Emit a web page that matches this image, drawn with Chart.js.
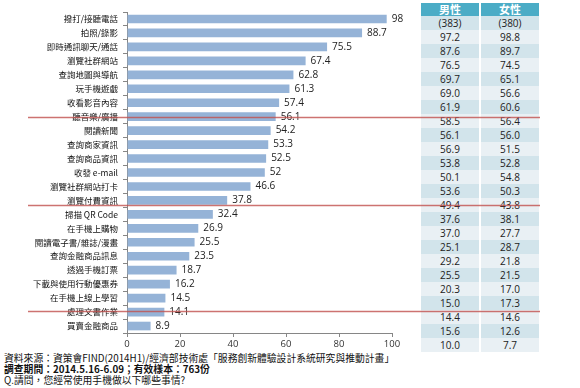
<!DOCTYPE html>
<html lang="zh-Hant">
<head>
<meta charset="UTF-8">
<title>手機使用行為</title>
<script src="https://cdn.jsdelivr.net/npm/chart.js"></script>
<style>
  body { margin: 0; background: #fff; width: 580px; height: 388px; overflow: hidden; position: relative;
         font-family: "Noto Sans CJK TC", "Noto Sans", sans-serif; }
  #wrap { position: absolute; left: 0; top: 0; width: 580px; height: 352px; z-index: 2; }
  #tbl { position: absolute; left: 421px; top: 3px; width: 118px; z-index: 1; }
  .row { display: flex; height: 14px; }
  .row div { width: 58px; text-align: center; font: 10px "Open Sans", "Liberation Sans", sans-serif; line-height: 14px; color: #222; }
  .row div + div { margin-left: 2px; }
  .head { height: 13px; }
  .head div { background: #4bacc6; color: #fff; font: bold 11px "Noto Sans CJK TC", sans-serif; line-height: 13px; }
  .dark div { background: #d2e4eb; }
  .light div { background: #e9f0f4; }
  .note { position: absolute; left: 4px; font-size: 9.8px; color: #111; white-space: nowrap; line-height: 12px; }
</style>
</head>
<body>
<div id="wrap"><canvas id="chart"></canvas></div>
<div id="tbl"></div>
<div class="note" style="top:352px">資料來源：資策會FIND(2014H1)/經濟部技術處「服務創新體驗設計系統研究與推動計畫」</div>
<div class="note" style="top:363px;font-weight:bold">調查期間：2014.5.16-6.09；有效樣本：763份</div>
<div class="note" style="top:374px">Q.請問，您經常使用手機做以下哪些事情?</div>
<script>
const categories = ['撥打/接聽電話', '拍照/錄影', '即時通訊聊天/通話', '瀏覽社群網站', '查詢地圖與導航',
  '玩手機遊戲', '收看影音內容', '聽音樂/廣播', '閱讀新聞', '查詢商家資訊', '查詢商品資訊', '收發 e-mail',
  '瀏覽社群網站打卡', '瀏覽付費資訊', '掃描 QR Code', '在手機上購物', '閱讀電子書/雜誌/漫畫',
  '查詢金融商品訊息', '透過手機訂票', '下載與使用行動優惠券', '在手機上線上學習', '處理文書作業', '買賣金融商品'];
const totals = [98, 88.7, 75.5, 67.4, 62.8, 61.3, 57.4, 56.1, 54.2, 53.3, 52.5, 52, 46.6, 37.8,
  32.4, 26.9, 25.5, 23.5, 18.7, 16.2, 14.5, 14.1, 8.9];
const tableHead = ['男性', '女性'];
const sampleSizes = ['(383)', '(380)'];
const male = ['97.2', '87.6', '76.5', '69.7', '69.0', '61.9', '58.5', '56.1', '56.9', '53.8', '50.1', '53.6',
  '49.4', '37.6', '37.0', '25.1', '29.2', '25.5', '20.3', '15.0', '14.4', '15.6', '10.0'];
const female = ['98.8', '89.7', '74.5', '65.1', '56.6', '60.6', '56.4', '56.0', '51.5', '52.8', '54.8', '50.3',
  '43.8', '38.1', '27.7', '28.7', '21.8', '21.5', '17.0', '17.3', '14.6', '12.6', '7.7'];
const xTicks = [0, 20, 40, 60, 80, 100];

// side table
const tbl = document.getElementById('tbl');
let html = '<div class="row head"><div>' + tableHead[0] + '</div><div>' + tableHead[1] + '</div></div>';
const rows = [sampleSizes].concat(male.map((m, i) => [m, female[i]]));
rows.forEach((r, i) => {
  html += '<div class="row ' + (i % 2 === 0 ? 'dark' : 'light') + '"><div>' + r[0] + '</div><div>' + r[1] + '</div></div>';
});
tbl.innerHTML = html;

// value labels at bar ends
const valueLabels = {
  id: 'valueLabels',
  afterDatasetsDraw(chart) {
    const ctx = chart.ctx;
    const meta = chart.getDatasetMeta(0);
    ctx.save();
    ctx.font = '10px "Open Sans", "Liberation Sans", sans-serif';
    ctx.fillStyle = '#222';
    ctx.textBaseline = 'middle';
    ctx.textAlign = 'left';
    meta.data.forEach((bar, i) => {
      ctx.fillText(String(totals[i]), bar.x + 5, bar.y);
    });
    ctx.restore();
  }
};

// red group dividers
const dividers = {
  id: 'dividers',
  afterDraw(chart) {
    const ctx = chart.ctx;
    const y = chart.scales.y;
    ctx.save();
    ctx.strokeStyle = 'rgba(192,80,77,0.8)';
    ctx.lineWidth = 1.5;
    [7, 13.35, 20.95].forEach(v => {
      const py = Math.round(y.getPixelForValue(v)) + 0.5;
      ctx.beginPath();
      ctx.moveTo(28, py);
      ctx.lineTo(540, py);
      ctx.stroke();
    });
    ctx.restore();
  }
};

new Chart(document.getElementById('chart'), {
  type: 'bar',
  data: {
    labels: categories,
    datasets: [{
      data: totals,
      backgroundColor: '#95b3d7',
      barPercentage: 0.62,
      categoryPercentage: 1
    }]
  },
  options: {
    indexAxis: 'y',
    responsive: true,
    maintainAspectRatio: false,
    animation: false,
    layout: { padding: { top: 12, right: 188, left: 0, bottom: 0 } },
    plugins: { legend: { display: false }, tooltip: { enabled: false } },
    scales: {
      x: {
        min: 0, max: 100,
        afterBuildTicks(s) { s.ticks = xTicks.map(v => ({ value: v })); },
        afterFit(s) { s.height = 19; },
        grid: { drawOnChartArea: false, tickLength: 4, color: '#868686' },
        border: { color: '#868686' },
        ticks: { padding: 2, color: '#333', font: { size: 9.5, family: '"Open Sans", "Liberation Sans", sans-serif' } }
      },
      y: {
        afterFit(s) { s.width = 127; },
        grid: { drawOnChartArea: false, tickLength: 4, color: '#868686' },
        border: { color: '#868686' },
        ticks: { padding: 5, color: '#111', autoSkip: false, font: { size: 8.5, family: '"Noto Sans CJK TC", sans-serif' } }
      }
    }
  },
  plugins: [valueLabels, dividers]
});
</script>
</body>
</html>
